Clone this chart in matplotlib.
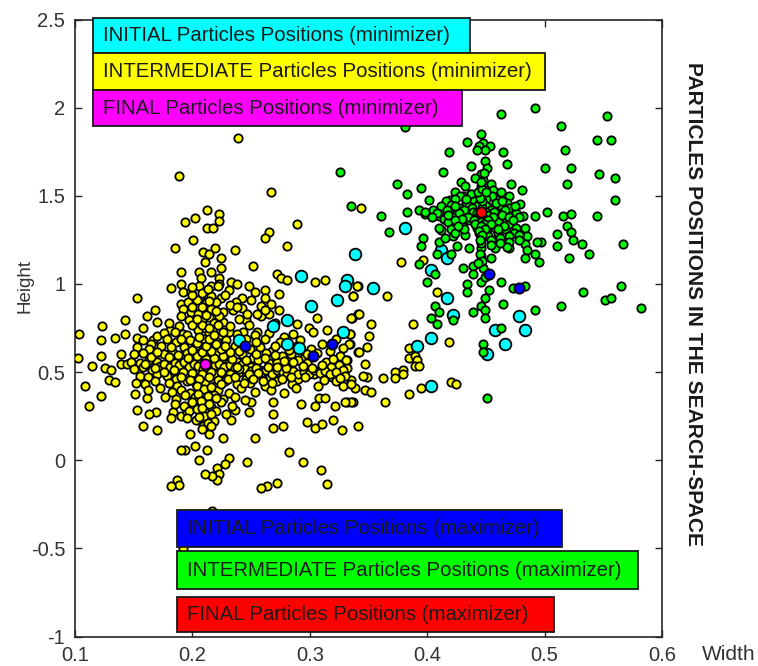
import matplotlib
matplotlib.use("Agg")
import matplotlib.pyplot as plt
from matplotlib.patches import Rectangle

plt.rcParams["font.family"] = ["Liberation Sans", "DejaVu Sans"]

# values as (width, height)
yellow_outer = [
    (.2127, 1.419), (.2229, 1.397), (.2022, 1.374), (.1937, 1.349), (.2229, 1.355), (.2124, 1.315),
    (.2178, 1.315), (.2005, 1.247), (.1852, 1.202), (.2192, 1.206), (.2365, 1.191), (.2093, 1.179),
    (.2144, 1.168), (.2246, 1.145), (.2107, 1.122), (.2246, 1.088), (.2516, 1.100), (.2894, 1.340),
    (.2655, 1.293), (.2621, 1.259), (.2808, 1.213), (.2720, 1.056), (.2757, 1.034), (.2808, 1.020),
    (.3044, 1.009), (.3132, 1.020), (.1905, 1.066), (.2056, 1.066), (.2158, 1.066), (.2076, 1.032),
    (.2226, 1.032), (.1903, .998), (.1817, .975), (.1923, .952), (.1991, .952), (.2056, .986),
    (.2158, .986), (.2229, .998), (.2329, 1.009), (.2380, .998), (.2314, .964), (.2485, .986),
    (.2536, .952), (.2621, .964), (.2737, .941), (.1528, .918), (.2246, .918), (.2419, .918),
    (.2110, .896), (.2368, .896), (.2618, .918), (.1905, .884), (.2587, .873), (.2672, .884),
    (.1684, .850), (.1613, .816), (.1701, .782), (.1426, .794), (.1991, .839), (.2093, .805),
    (.2178, .816), (.2263, .782), (.2348, .850), (.2419, .862), (.2456, .794), (.2468, .828),
    (.2587, .816), (.2652, .828), (.2737, .850), (.3064, .805), (.3356, .805), (.3413, .828),
    (.3371, .930), (.3413, .986), (.1233, .760), (.1579, .748), (.1037, .714), (.1426, .714),
    (.1338, .691), (.1224, .680), (.1531, .691), (.1667, .680), (.1695, .707), (.1888, .760),
    (.1809, .737), (.1974, .794), (.1923, .714), (.2110, .748), (.2178, .748), (.2312, .726),
    (.2553, .726), (.2894, .771), (.2996, .748), (.3030, .726), (.3144, .737), (.2860, .714),
    (.3342, .714), (.3342, .658), (.3413, .612), (.1221, .589), (.1028, .578), (.1392, .601),
    (.1147, .533), (.1255, .521), (.1306, .510), (.1392, .544), (.1440, .544), (.1289, .453),
    (.1340, .442), (.1082, .419), (.1221, .363), (.1119, .306), (.1511, .374), (.1616, .351),
    (.1528, .283), (.1690, .272), (.1630, .260), (.1579, .192), (.1698, .170), (.1837, .272),
    (.1817, .238), (.1903, .249), (.1954, .272), (.1979, .147), (.2093, .192), (.2144, .147),
    (.2263, .124), (.2536, .124), (.2331, .226), (.2365, .283), (.2485, .272), (.2502, .329),
    (.2689, .329), (.2689, .260), (.2689, .181), (.2774, .192), (.2928, .317), (.3047, .306),
    (.3081, .351), (.3126, .351), (.3217, .306), (.3320, .329), (.3365, .329), (.2979, .215),
    (.3047, .181), (.3101, .204), (.3200, .226), (.3271, .170), (.3407, .192), (.2823, .045),
    (.2945, -.012), (.3098, -.057), (.3146, -.137), (.2723, -.127), (.2638, -.148), (.2584, -.159),
    (.2468, -.012), (.2314, .011), (.2277, -.023), (.2212, -.046), (.2229, -.080), (.2212, -.114),
    (.2167, -.091), (.2107, -.080), (.2059, -.000), (.2124, .056), (.2022, .079), (.1937, .056),
    (.1903, .056), (.1869, -.114), (.1886, -.140), (.1817, -.148), (.2388, 1.828), (.1886, 1.612),
    (.2670, 1.520), (.2167, -.285), (.1920, -.499),
]

yellow_right = [
    (.3439, 1.429), (.3777, 1.122), (.3967, 1.136), (.4086, .954), (.3660, .930), (.3371, .930),
    (.3399, .986), (.3354, .805), (.3422, .827), (.3524, .771), (.3882, .771), (.3507, .703),
    (.3342, .714), (.3337, .657), (.3490, .644), (.3422, .612), (.3848, .635), (.4188, .669),
    (.3470, .544), (.3848, .578), (.3899, .589), (.3916, .567), (.3899, .533), (.3933, .533),
    (.3796, .510), (.3728, .502), (.3796, .487), (.3728, .465), (.3626, .465), (.3490, .474),
    (.3456, .478), (.3354, .453), (.3285, .419), (.3388, .408), (.3473, .396), (.3524, .385),
    (.3643, .328), (.3848, .374), (.3950, .408), (.4205, .442), (.4248, .430), (.3348, .328),
    (.3302, .328), (.3319, .567), (.3319, .521), (.3285, .635),
]

yellow_dense = [
    (.176, .72), (.185, .73), (.195, .71), (.205, .74), (.214, .72), (.222, .70), (.243, .73), (.253, .71),
    (.265, .72), (.278, .70), (.158, .68), (.165, .66), (.178, .69), (.186, .67), (.198, .68), (.210, .69),
    (.221, .67), (.229, .68), (.241, .66), (.262, .69), (.275, .67), (.292, .68), (.310, .66), (.322, .69),
    (.153, .64), (.163, .63), (.173, .65), (.183, .62), (.193, .64), (.203, .65), (.212, .63), (.219, .64),
    (.226, .62), (.236, .65), (.249, .63), (.258, .64), (.268, .62), (.289, .65), (.301, .63), (.317, .62),
    (.150, .60), (.158, .61), (.167, .59), (.176, .60), (.186, .58), (.195, .61), (.204, .60), (.213, .59),
    (.220, .61), (.229, .59), (.242, .60), (.252, .58), (.263, .61), (.276, .59), (.284, .60), (.295, .58),
    (.306, .61), (.326, .59), (.148, .56), (.155, .55), (.163, .57), (.170, .56), (.180, .54), (.188, .57),
    (.196, .55), (.204, .56), (.224, .57), (.231, .55), (.238, .56), (.248, .54), (.256, .57), (.265, .55),
    (.272, .56), (.280, .54), (.290, .57), (.298, .55), (.314, .56), (.325, .54), (.331, .57), (.150, .52),
    (.158, .53), (.166, .51), (.174, .52), (.182, .50), (.190, .53), (.198, .52), (.206, .51), (.214, .53),
    (.222, .51), (.230, .52), (.240, .50), (.250, .53), (.258, .51), (.266, .52), (.274, .50), (.282, .51),
    (.296, .52), (.306, .50), (.318, .53), (.328, .51), (.155, .48), (.162, .47), (.170, .49), (.178, .48),
    (.186, .46), (.194, .49), (.202, .47), (.210, .48), (.218, .49), (.226, .47), (.234, .48), (.246, .46),
    (.254, .49), (.266, .47), (.279, .48), (.290, .46), (.304, .49), (.319, .47), (.330, .48), (.152, .44),
    (.160, .43), (.168, .45), (.180, .44), (.187, .42), (.195, .45), (.203, .43), (.211, .44), (.219, .42),
    (.228, .45), (.238, .43), (.249, .44), (.262, .42), (.272, .45), (.285, .43), (.307, .42), (.322, .45),
    (.335, .43), (.162, .40), (.172, .41), (.183, .39), (.190, .40), (.198, .38), (.206, .41), (.214, .39),
    (.222, .40), (.231, .38), (.241, .41), (.253, .39), (.267, .40), (.278, .38), (.288, .41), (.177, .36),
    (.186, .35), (.194, .37), (.202, .36), (.210, .34), (.218, .37), (.226, .35), (.236, .36), (.245, .34),
    (.185, .32), (.193, .31), (.200, .33), (.208, .32), (.216, .30), (.224, .33), (.234, .31), (.197, .28),
    (.204, .29), (.212, .27), (.220, .28), (.229, .26), (.195, .24), (.203, .23), (.210, .25), (.218, .22),
    (.196, .90), (.204, .91), (.212, .89), (.220, .90), (.232, .88), (.250, .91), (.192, .86), (.200, .87),
    (.208, .85), (.216, .86), (.226, .84), (.238, .87), (.262, .85), (.190, .82), (.205, .83), (.214, .81),
    (.223, .82), (.240, .80), (.255, .83), (.180, .78), (.200, .77), (.208, .79), (.218, .78), (.232, .76),
    (.248, .77), (.270, .78), (.200, .94), (.208, .95), (.216, .93), (.228, .94), (.200, .98), (.213, .97),
    (.222, .99),
]

# the black core of the left cloud, a band along height 0.5 and a column near width 0.21
yellow_core = [
    (.172, .535), (.176, .548), (.181, .527), (.185, .552), (.189, .540), (.193, .558), (.197, .530),
    (.201, .545), (.205, .532), (.209, .520), (.216, .552), (.219, .538), (.223, .548), (.227, .530),
    (.232, .540), (.236, .522), (.241, .538), (.245, .518), (.250, .505), (.254, .522), (.259, .498),
    (.263, .510), (.268, .492), (.272, .512), (.277, .498), (.281, .488), (.286, .505), (.290, .490),
    (.295, .502), (.299, .488), (.304, .510), (.309, .495), (.313, .508), (.317, .488), (.322, .500),
    (.176, .500), (.184, .512), (.192, .503), (.200, .495), (.208, .490), (.216, .502), (.224, .498),
    (.232, .492), (.240, .515), (.248, .488), (.256, .495), (.264, .528), (.272, .530), (.280, .522),
    (.180, .585), (.188, .595), (.196, .580), (.204, .590), (.212, .572), (.218, .582), (.226, .590),
    (.234, .575), (.190, .470), (.198, .455), (.206, .462), (.214, .470), (.222, .458), (.230, .463),
    (.200, .625), (.208, .612), (.216, .620), (.224, .634), (.232, .612), (.240, .622), (.204, .665),
    (.212, .650), (.220, .660), (.228, .650), (.206, .702), (.214, .690), (.218, .712), (.226, .725),
    (.208, .770), (.214, .752), (.222, .768), (.204, .802), (.212, .826), (.220, .846), (.208, .872),
    (.214, .905), (.204, .420), (.210, .405), (.216, .418), (.224, .432), (.205, .378), (.213, .365),
    (.220, .352), (.207, .335), (.214, .318), (.208, .298), (.216, .262), (.206, .248), (.213, .212),
    (.208, .178), (.216, .196), (.168, .525), (.160, .548), (.165, .585), (.170, .612), (.182, .640),
    (.190, .690), (.238, .530), (.246, .570), (.254, .605), (.262, .580), (.270, .598), (.278, .565),
    (.286, .555), (.294, .535), (.302, .525), (.310, .540), (.320, .572), (.298, .602), (.282, .628),
    (.270, .650), (.246, .690), (.254, .672), (.238, .715), (.236, .470), (.244, .440), (.252, .462),
    (.260, .448), (.268, .438), (.276, .462), (.284, .472), (.296, .470), (.312, .458), (.326, .468),
]

green_outer = [
    (.4631, 1.964), (.4921, 1.998), (.5534, 1.952), (.5142, 1.896), (.3813, 1.888), (.4461, 1.850),
    (.5449, 1.816), (.5568, 1.816), (.4342, 1.805), (.4478, 1.797), (.4444, 1.782), (.4535, 1.782),
    (.4495, 1.759), (.4427, 1.759), (.4188, 1.748), (.4648, 1.748), (.5176, 1.759), (.4495, 1.699),
    (.4682, 1.680), (.4376, 1.669), (.4512, 1.657), (.5006, 1.657), (.5227, 1.657), (.4137, 1.635),
    (.4461, 1.623), (.5466, 1.623), (.5602, 1.601), (.3254, 1.635), (.4410, 1.601), (.4478, 1.589),
    (.4290, 1.578), (.3745, 1.567), (.5193, 1.567), (.4716, 1.567), (.4546, 1.567), (.3950, 1.544),
    (.4461, 1.555), (.4325, 1.555), (.4807, 1.533), (.3830, 1.510), (.4239, 1.521), (.4563, 1.533),
    (.4376, 1.510), (.4699, 1.499), (.4018, 1.476), (.5602, 1.476), (.4194, 1.476), (.4308, 1.499),
    (.4597, 1.476), (.4790, 1.453), (.3354, 1.440), (.3609, 1.383), (.3830, 1.406), (.3933, 1.417),
    (.3984, 1.395), (.4052, 1.417), (.4103, 1.383), (.4188, 1.417), (.4279, 1.395), (.4614, 1.440),
    (.4733, 1.406), (.4819, 1.383), (.4921, 1.383), (.5023, 1.406), (.5159, 1.383), (.5227, 1.395),
    (.5449, 1.383), (.3677, 1.293), (.3967, 1.259), (.3950, 1.213), (.4103, 1.236), (.4256, 1.213),
    (.4120, 1.304), (.4222, 1.270), (.4154, 1.259), (.5193, 1.327), (.5227, 1.293), (.5108, 1.281),
    (.5244, 1.247), (.5318, 1.224), (.5108, 1.213), (.5670, 1.224), (.5381, 1.168), (.5210, 1.145),
    (.4972, 1.236), (.4938, 1.236), (.4836, 1.315), (.4853, 1.270), (.4836, 1.224), (.4853, 1.190),
    (.4921, 1.168), (.4836, 1.145), (.4955, 1.122), (.4086, 1.168), (.4205, 1.168), (.4359, 1.202),
    (.4461, 1.202), (.4580, 1.202), (.4699, 1.202), (.4461, 1.156), (.4546, 1.145), (.3933, 1.111),
    (.4069, 1.054), (.4308, 1.088), (.4393, 1.100), (.4393, 1.054), (.4478, 1.088), (.4001, 1.009),
    (.4342, 1.000), (.4461, 1.009), (.4342, .952), (.4529, .964), (.4631, 1.009), (.4733, .975),
    (.4836, .986), (.4495, .918), (.4648, .884), (.4461, .873), (.4495, .850), (.4393, .839),
    (.4495, .805), (.4921, .850), (.5142, .873), (.5330, .952), (.5517, .907), (.5568, .918),
    (.5653, .986), (.5824, .862), (.4069, .873), (.4103, .839), (.4035, .805), (.4086, .771),
    (.4222, .793), (.4631, .748), (.4478, .657), (.4478, .612), (.4512, .351),
]

green_dense = [
    (.428, 1.50), (.437, 1.51), (.446, 1.49), (.455, 1.50), (.463, 1.52), (.416, 1.47), (.424, 1.48),
    (.433, 1.46), (.440, 1.47), (.450, 1.48), (.468, 1.46), (.412, 1.44), (.420, 1.45), (.428, 1.43),
    (.436, 1.44), (.444, 1.46), (.453, 1.43), (.462, 1.45), (.470, 1.43), (.398, 1.41), (.408, 1.40),
    (.417, 1.42), (.425, 1.41), (.434, 1.39), (.442, 1.42), (.458, 1.40), (.466, 1.42), (.476, 1.40),
    (.404, 1.38), (.414, 1.37), (.422, 1.38), (.432, 1.36), (.440, 1.39), (.450, 1.37), (.460, 1.38),
    (.468, 1.36), (.478, 1.38), (.418, 1.35), (.428, 1.34), (.436, 1.36), (.444, 1.35), (.452, 1.33),
    (.460, 1.35), (.470, 1.34), (.476, 1.32), (.410, 1.32), (.420, 1.31), (.430, 1.33), (.442, 1.32),
    (.450, 1.30), (.458, 1.32), (.466, 1.31), (.474, 1.29), (.424, 1.29), (.432, 1.28), (.444, 1.29),
    (.452, 1.27), (.460, 1.29), (.470, 1.27), (.478, 1.28), (.446, 1.26), (.454, 1.25), (.462, 1.26),
    (.470, 1.24), (.478, 1.25), (.446, 1.23), (.454, 1.22), (.462, 1.23), (.468, 1.21),
]

# the black core of the right cloud, tight around the red point
green_core = [
    (.4460, 1.45), (.4420, 1.44), (.4500, 1.44), (.4380, 1.43), (.4470, 1.43), (.4540, 1.42), (.4310, 1.42),
    (.4390, 1.41), (.4500, 1.41), (.4570, 1.41), (.4420, 1.40), (.4270, 1.40), (.4510, 1.39), (.4350, 1.38),
    (.4430, 1.38), (.4560, 1.38), (.4300, 1.37), (.4480, 1.37), (.4400, 1.36), (.4520, 1.36), (.4460, 1.35),
    (.4480, 1.34), (.4410, 1.34), (.4540, 1.34), (.4460, 1.33), (.4490, 1.31), (.4440, 1.30), (.4470, 1.28),
    (.4450, 1.25), (.4470, 1.47), (.4450, 1.49), (.4430, 1.52), (.4470, 1.54), (.4500, 1.52), (.4460, 1.58),
    (.4480, 1.63), (.4450, 1.17), (.4470, 1.13), (.4490, 1.04), (.4430, 1.12), (.4640, 1.39), (.4700, 1.38),
    (.4240, 1.36), (.4180, 1.39), (.4730, 1.36), (.4650, 1.33), (.4600, 1.31), (.4310, 1.31), (.4260, 1.33),
    (.4240, 1.44), (.4330, 1.48), (.4590, 1.46), (.4640, 1.47), (.4750, 1.44),
]

cyan_points = [
    (.2400, .682), (.2689, .760), (.2808, .795), (.2808, .657), (.2911, .635), (.3013, .873),
    (.2928, 1.043), (.3234, .907), (.3320, 1.020), (.3302, .986), (.3285, .726), (.3388, 1.168),
    (.3813, 1.315), (.3541, .975), (.3916, .646), (.4035, .691), (.4120, 1.192), (.4171, 1.149),
    (.4035, 1.079), (.4171, .918), (.4222, .822), (.4580, .739), (.4785, .816), (.4836, .737),
    (.4665, .657), (.4512, .601), (.4035, .419),
]
blue_points = [(.2451, .646), (.3030, .589), (.3186, .657), (.4529, 1.054), (.4785, .975)]
magenta_point = [(.2107, .544)]
red_point = [(.4461, 1.408)]

x_ticks = [0.1, 0.2, 0.3, 0.4, 0.5, 0.6]
y_ticks = [-1, -0.5, 0, 0.5, 1, 1.5, 2, 2.5]
x_labels = ["0.1", "0.2", "0.3", "0.4", "0.5", "0.6"]
y_labels = ["-1", "-0.5", "0", "0.5", "1", "1.5", "2", "2.5"]

legend_names = [
    "INITIAL Particles Positions (minimizer)",
    "INTERMEDIATE Particles Positions (minimizer)",
    "FINAL Particles Positions (minimizer)",
    "INITIAL Particles Positions (maximizer)",
    "INTERMEDIATE Particles Positions (maximizer)",
    "FINAL Particles Positions (maximizer)",
]
legend_colors = ["#00ffff", "#ffff00", "#ff00ff", "#0000ff", "#00ff00", "#ff0000"]
# left, top, right, bottom of each box, in pixels
legend_boxes = [
    (93, 18, 470, 53), (93, 53, 545, 90), (93, 90, 462, 126),
    (177, 510, 562, 547), (177, 551, 638, 589), (177, 597, 554, 632),
]

W, H = 758, 666
DARK = "#262626"

fig = plt.figure(figsize=(W / 100, H / 100), dpi=100)
ax = fig.add_axes([75 / W, (H - 636.6) / H, 587 / W, 617.1 / H])


def draw(points, color, size, z):
    xs = [p[0] for p in points]
    ys = [p[1] for p in points]
    ax.plot(xs, ys, "o", color=color, markeredgecolor="black", markersize=size,
            markeredgewidth=1.3, zorder=z)


draw(yellow_outer + yellow_right + yellow_dense + yellow_core, "#ffff00", 6.0, 3)
draw(cyan_points, "#00ffff", 8.4, 4)
draw(green_outer + green_dense + green_core, "#00ff00", 6.0, 5)
draw(blue_points, "#0000ff", 7.4, 6)
draw(magenta_point, "#ff00ff", 7.4, 7)
draw(red_point, "#ff0000", 7.4, 7)

ax.set_xlim(0.1, 0.6)
ax.set_ylim(-1, 2.5)
ax.set_xticks(x_ticks)
ax.set_xticklabels(x_labels)
ax.set_yticks(y_ticks)
ax.set_yticklabels(y_labels)
ax.tick_params(direction="in", length=5, width=1.0, color=DARK, labelcolor="#333333",
               labelsize=14.5, top=True, right=True)
ax.tick_params(axis="x", pad=6.5)
ax.tick_params(axis="y", pad=7)
for spine in ax.spines.values():
    spine.set_linewidth(1.2)
    spine.set_color(DARK)

# legend boxes sit on top of the axes, drawn by hand like the original annotations
for name, color, box in zip(legend_names, legend_colors, legend_boxes):
    left, top, right, bottom = box
    fig.add_artist(Rectangle((left / W, 1 - bottom / H), (right - left) / W, (bottom - top) / H,
                             transform=fig.transFigure, facecolor=color, edgecolor="#1a1a1a",
                             linewidth=1.3, zorder=10))
    fig.text((left + 10) / W, 1 - (top + bottom) / 2 / H, name, fontsize=14.7, color="#1a1a1a",
             ha="left", va="center", zorder=11)

fig.text(25 / W, 1 - 286 / H, "Height", fontsize=13.5, color="#333333", rotation=90,
         ha="center", va="center")
fig.text(729 / W, 1 - 654 / H, "Width", fontsize=15, color="#333333", ha="center", va="center")
fig.text(693 / W, 1 - 304 / H, "PARTICLES POSITIONS IN THE SEARCH-SPACE", fontsize=15.1,
         fontweight="bold", color="#1a1a1a", rotation=-90, ha="center", va="center")

fig.savefig("out.png", dpi=100)
